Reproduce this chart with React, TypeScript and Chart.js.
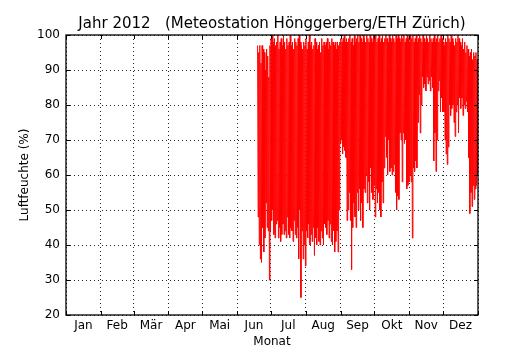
import { useEffect, useRef } from 'react';
import { Chart, registerables } from 'chart.js';

Chart.register(...registerables);

const TITLE = 'Jahr 2012   (Meteostation Hönggerberg/ETH Zürich)';
const Y_LABEL = 'Luftfeuchte (%)';
const X_LABEL = 'Monat';
const MONTHS = ['Jan', 'Feb', 'Mär', 'Apr', 'Mai', 'Jun', 'Jul', 'Aug', 'Sep', 'Okt', 'Nov', 'Dez'];
const MONTH_STARTS = [0, 31, 60, 91, 121, 152, 182, 213, 244, 274, 305, 335, 366];
const Y_TICKS = [20, 30, 40, 50, 60, 70, 80, 90, 100];

// first day of year (0 = 1 Jan) with measurements
const FIRST_DAY = 170;

// daily maximum humidity (%), day 170..365
const dailyMax = [
  97, 95, 97, 92, 97, 96, 95, 90, 96, 94,
  88, 97, 99, 100, 98, 99, 97, 98, 100, 96,
  98, 99, 97, 100, 98, 96, 99, 97, 98, 100,
  97, 98, 96, 99, 98, 97, 99, 100, 98, 97,
  96, 98, 97, 99, 96, 98, 100, 97, 98, 96,
  97, 99, 98, 96, 97, 98, 95, 99, 97, 98,
  97, 98, 99, 96, 98, 97, 99, 98, 97, 98,
  96, 98, 97, 98, 99, 98, 99, 100, 98, 99,
  98, 99, 100, 98, 99, 97, 100, 98, 99, 100,
  98, 100, 99, 98, 100, 99, 98, 100, 99, 98,
  100, 99, 98, 100, 99, 100, 98, 99, 100, 98,
  99, 100, 98, 99, 100, 99, 98, 100, 99, 98,
  100, 99, 98, 100, 99, 100, 99, 98, 100, 99,
  100, 98, 99, 100, 99, 98, 100, 99, 100, 98,
  99, 100, 98, 99, 100, 99, 98, 100, 99, 98,
  100, 99, 98, 100, 99, 98, 99, 100, 98, 99,
  100, 98, 99, 100, 99, 98, 97, 99, 98, 100,
  99, 98, 100, 99, 98, 97, 99, 98, 100, 99,
  98, 97, 99, 96, 98, 95, 97, 96, 94, 95,
  96, 93, 95, 94, 95, 93,
];

// daily minimum humidity (%), day 170..365
const dailyMin = [
  48, 40, 36, 35, 45, 38, 42, 52, 45, 44,
  30, 44, 47, 50, 43, 42, 46, 47, 42, 45,
  41, 43, 46, 43, 44, 42, 48, 43, 42, 45,
  44, 41, 47, 43, 42, 45, 36, 50, 25, 44,
  36, 40, 34, 44, 42, 46, 40, 43, 41, 45,
  37, 42, 40, 45, 41, 40, 44, 42, 40, 46,
  45, 43, 47, 42, 46, 41, 40, 44, 38, 41,
  44, 38, 50, 69, 70, 66, 68, 67, 65, 47,
  50, 55, 47, 33, 45, 52, 48, 45, 55, 50,
  56, 47, 52, 45, 56, 55, 60, 52, 58, 50,
  62, 55, 53, 57, 48, 56, 52, 55, 50, 48,
  58, 52, 62, 71, 65, 60, 70, 61, 62, 60,
  61, 63, 55, 50, 54, 53, 72, 70, 58, 72,
  69, 70, 56, 57, 58, 60, 58, 42, 62, 61,
  64, 62, 75, 83, 72, 80, 88, 85, 86, 84,
  88, 86, 87, 84, 88, 85, 64, 72, 61, 70,
  84, 87, 78, 82, 78, 78, 70, 66, 63, 68,
  80, 77, 79, 80, 75, 71, 78, 80, 72, 82,
  79, 82, 77, 80, 79, 81, 78, 65, 49, 55,
  51, 57, 53, 56, 57, 60,
];

const FONT = 'DejaVu Sans';

export default function App() {
  const ref = useRef<HTMLCanvasElement | null>(null);

  useEffect(() => {
    document.body.style.margin = '0';
    const canvas = ref.current;
    if (!canvas) return;

    const points: { x: number; y: number }[] = [];
    for (let i = 0; i < dailyMax.length; i++) {
      const d = FIRST_DAY + i;
      points.push({ x: d + 0.2, y: dailyMax[i] });
      points.push({ x: d + 0.7, y: dailyMin[i] });
    }

    const mids = MONTHS.map((_, i) => (MONTH_STARTS[i] + MONTH_STARTS[i + 1]) / 2);
    const allTicks = [...MONTH_STARTS, ...mids].sort((a, b) => a - b);

    const framePlugin = {
      id: 'frameTicks',
      afterDraw(chart: any) {
        const { ctx, chartArea } = chart;
        const { left, right, top, bottom } = chartArea;
        const xs = chart.scales.x;
        const ys = chart.scales.y;
        ctx.save();
        ctx.strokeStyle = '#000';
        ctx.lineWidth = 1;
        ctx.beginPath();
        const L = 4;
        Y_TICKS.forEach((v) => {
          const py = Math.round(ys.getPixelForValue(v)) + 0.5;
          ctx.moveTo(left, py);
          ctx.lineTo(left + L, py);
          ctx.moveTo(right, py);
          ctx.lineTo(right - L, py);
        });
        MONTH_STARTS.forEach((v) => {
          const px = Math.round(xs.getPixelForValue(v)) + 0.5;
          ctx.moveTo(px, bottom);
          ctx.lineTo(px, bottom - L);
          ctx.moveTo(px, top);
          ctx.lineTo(px, top + L);
        });
        ctx.stroke();
        ctx.lineWidth = 1.3;
        ctx.strokeRect(left, top, right - left, bottom - top);
        ctx.restore();
      },
    };

    const chart = new Chart(canvas, {
      type: 'line',
      data: {
        datasets: [
          {
            data: points,
            borderColor: '#ff0000',
            borderWidth: 1,
            pointRadius: 0,
            tension: 0,
            fill: false,
          },
        ],
      },
      options: {
        animation: false,
        responsive: false,
        events: [],
        layout: { padding: { left: 0, right: 52, top: 0, bottom: 0 } },
        plugins: {
          legend: { display: false },
          tooltip: { enabled: false },
          title: {
            display: true,
            text: TITLE,
            fullSize: false,
            color: '#000',
            font: { family: FONT, size: 15, weight: 'normal' },
            padding: { top: 15, bottom: 2 },
          },
        },
        scales: {
          x: {
            type: 'linear',
            min: 0,
            max: 366,
            z: 1,
            afterBuildTicks: (scale: any) => {
              scale.ticks = allTicks.map((v) => ({ value: v }));
            },
            afterFit: (scale: any) => {
              scale.height = 35;
            },
            border: { display: false, dash: [1, 3] },
            grid: {
              drawTicks: false,
              lineWidth: 1,
              color: (c: any) =>
                c.tick && MONTH_STARTS.includes(c.tick.value) ? 'rgba(0,0,0,0.85)' : 'rgba(0,0,0,0)',
            },
            ticks: {
              autoSkip: false,
              maxRotation: 0,
              padding: 4,
              color: '#000',
              font: { family: FONT, size: 12 },
              callback: (v: any) => {
                const idx = mids.indexOf(Number(v));
                return idx >= 0 ? MONTHS[idx] : '';
              },
            },
            title: {
              display: true,
              text: X_LABEL,
              color: '#000',
              font: { family: FONT, size: 12 },
              padding: { top: 1, bottom: 1 },
            },
          },
          y: {
            type: 'linear',
            min: 20,
            max: 100,
            z: 1,
            afterBuildTicks: (scale: any) => {
              scale.ticks = Y_TICKS.map((v) => ({ value: v }));
            },
            afterFit: (scale: any) => {
              scale.width = 66;
            },
            border: { display: false, dash: [1, 3] },
            grid: {
              drawTicks: false,
              lineWidth: 1,
              color: 'rgba(0,0,0,0.85)',
            },
            ticks: {
              padding: 6,
              color: '#000',
              font: { family: FONT, size: 12 },
            },
            title: {
              display: true,
              text: Y_LABEL,
              color: '#000',
              font: { family: FONT, size: 12 },
              padding: { top: 18, bottom: 18 },
            },
          },
        },
      },
      plugins: [framePlugin],
    } as any);

    return () => chart.destroy();
  }, []);

  return (
    <div style={{ width: 530, height: 350 }}>
      <canvas ref={ref} width={530} height={350} />
    </div>
  );
}
